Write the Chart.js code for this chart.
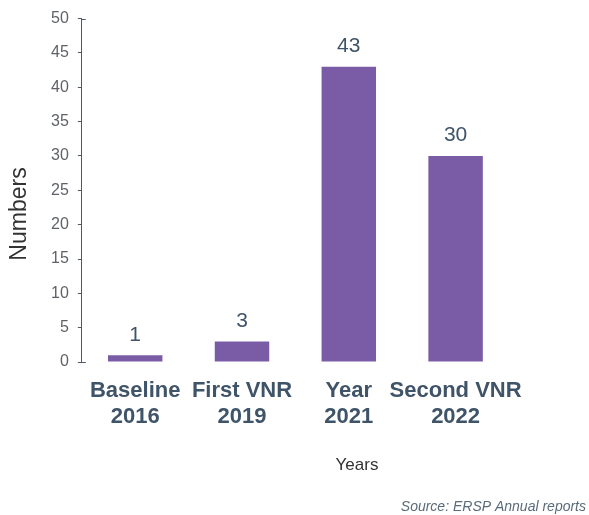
<!DOCTYPE html>
<html>
<head>
<meta charset="utf-8">
<script src="https://cdn.jsdelivr.net/npm/chart.js@4"></script>
<style>
  html, body { margin: 0; padding: 0; background: #fff; }
  #wrap { width: 589px; height: 515px; }
</style>
</head>
<body>
<div id="wrap"><canvas id="chart"></canvas></div>
<script>
// Data
const categories = [['Baseline', '2016'], ['First VNR', '2019'], ['Year', '2021'], ['Second VNR', '2022']];
const values = [1, 3, 43, 30];
const yTicks = [0, 5, 10, 15, 20, 25, 30, 35, 40, 45, 50];
const xTitle = 'Years';
const yTitle = 'Numbers';
const sourceNote = 'Source: ERSP Annual reports';

const TEXT = '#3f5468';
const AXIS = '#4a5a68';
const BAR = '#7a5ca6';
const FONT = '"Liberation Sans", Arial, sans-serif';

// value labels, axis titles, axis end caps and the source note
const decorations = {
  id: 'decorations',
  afterDatasetsDraw(chart) {
    const { ctx, scales } = chart;
    const meta = chart.getDatasetMeta(0);
    ctx.save();
    ctx.fillStyle = TEXT;
    ctx.font = '21px ' + FONT;
    ctx.textAlign = 'center';
    ctx.textBaseline = 'bottom';
    meta.data.forEach((bar, i) => {
      ctx.fillText(String(values[i]), bar.x, bar.y - 10);
    });

    // small right-pointing caps at both ends of the y axis
    const ax = scales.y.right;
    ctx.strokeStyle = AXIS;
    ctx.lineWidth = 1;
    ctx.beginPath();
    [scales.y.getPixelForValue(0), scales.y.getPixelForValue(50)].forEach(py => {
      const yy = Math.round(py) + 0.5;
      ctx.moveTo(ax, yy);
      ctx.lineTo(ax + 4, yy);
    });
    ctx.stroke();

    ctx.fillStyle = '#333';
    ctx.font = '17px ' + FONT;
    ctx.textAlign = 'center';
    ctx.textBaseline = 'middle';
    ctx.fillText(xTitle, 357, 465);

    ctx.save();
    ctx.translate(20, 214);
    ctx.rotate(-Math.PI / 2);
    ctx.font = '23px ' + FONT;
    ctx.fillText(yTitle, 0, 0);
    ctx.restore();

    ctx.fillStyle = '#5a6b7a';
    ctx.font = 'italic 14px ' + FONT;
    ctx.textAlign = 'right';
    ctx.fillText(sourceNote, chart.width - 3, 507);
    ctx.restore();
  }
};

new Chart(document.getElementById('chart'), {
  type: 'bar',
  data: {
    labels: categories,
    datasets: [{
      data: values,
      backgroundColor: BAR,
      borderWidth: 0,
      barPercentage: 0.51,
      categoryPercentage: 1.0,
    }],
  },
  options: {
    responsive: true,
    maintainAspectRatio: false,
    animation: false,
    layout: { padding: { top: 16, right: 80, left: 42, bottom: 77 } },
    plugins: {
      legend: { display: false },
      tooltip: { enabled: false },
    },
    scales: {
      x: {
        grid: { display: false },
        border: { display: false },
        ticks: {
          color: TEXT,
          font: { family: FONT, size: 22, weight: 'bold', lineHeight: 1.18 },
          padding: 8,
          maxRotation: 0,
          autoSkip: false,
        },
      },
      y: {
        min: 0,
        max: 50,
        afterBuildTicks(axis) { axis.ticks = yTicks.map(v => ({ value: v })); },
        grid: { drawOnChartArea: false, drawTicks: true, tickLength: 4, color: AXIS },
        border: { display: true, color: AXIS, width: 1 },
        ticks: {
          color: '#5f6368',
          font: { family: FONT, size: 16 },
          padding: 9,
        },
      },
    },
  },
  plugins: [decorations],
});
</script>
</body>
</html>
